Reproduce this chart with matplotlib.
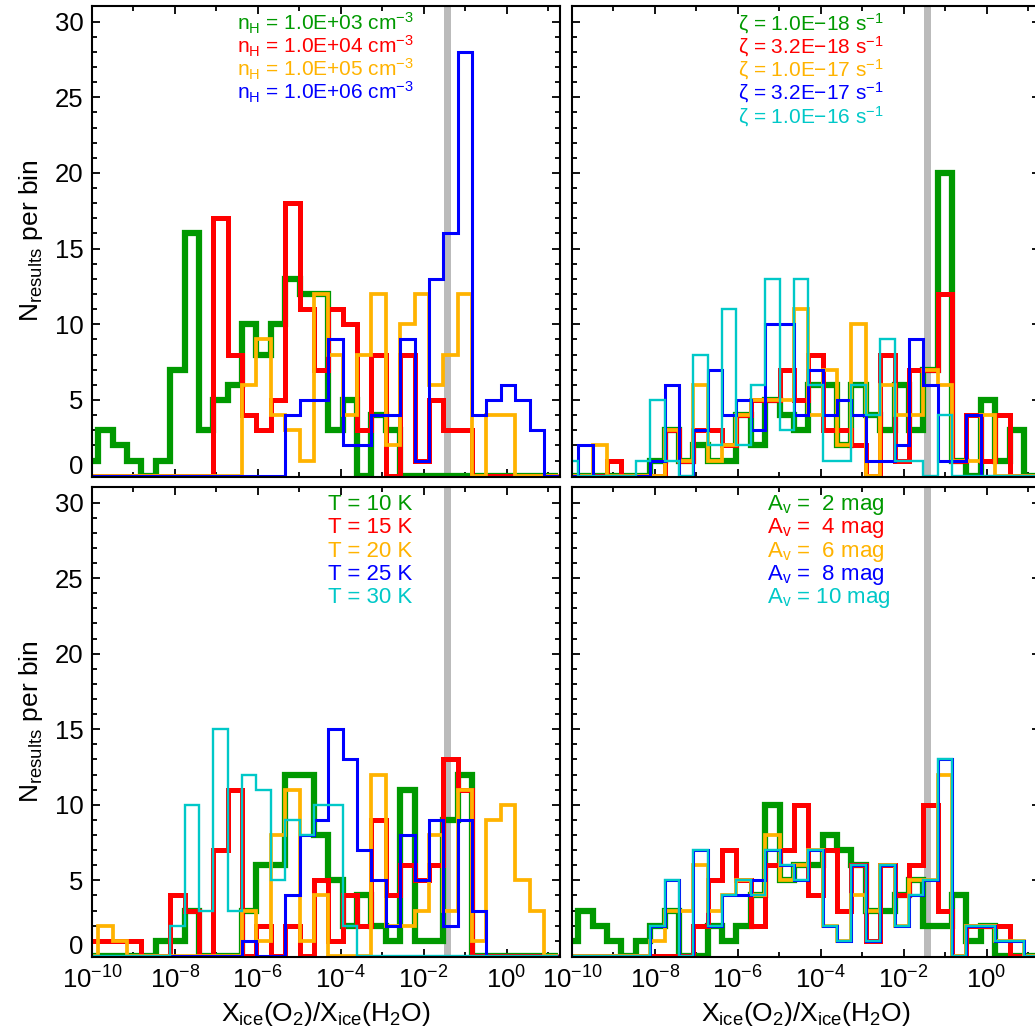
import numpy as np
import matplotlib
matplotlib.use('Agg')
import matplotlib.pyplot as plt
from matplotlib.ticker import FixedLocator, NullFormatter, FixedFormatter

plt.rcParams['font.family'] = ['Liberation Sans', 'DejaVu Sans']
plt.rcParams['mathtext.fontset'] = 'custom'
plt.rcParams['mathtext.rm'] = 'Liberation Sans'
plt.rcParams['mathtext.it'] = 'Liberation Sans:italic'
plt.rcParams['mathtext.bf'] = 'Liberation Sans:bold'
plt.rcParams['mathtext.sf'] = 'Liberation Sans'
plt.rcParams['mathtext.default'] = 'regular'

# ---------------- histogram binning (log10 of X_ice(O2)/X_ice(H2O)) -------------
LOG_BIN_START = -10.54
LOG_BIN_WIDTH = 0.3467
N_BINS = 34

# observed value band (log10 limits)
BAND_LOG = (-1.51, -1.335)

# ---------------- data: counts per bin -----------------------------------------
# panel 1: density
nh_labels = [r'n$_H$ = 1.0E+03 cm$^{-3}$', r'n$_H$ = 1.0E+04 cm$^{-3}$',
             r'n$_H$ = 1.0E+05 cm$^{-3}$', r'n$_H$ = 1.0E+06 cm$^{-3}$']
nh_1e3 = [1,1,3,2,1,0,1,7,16,3,5,6,10,8,10,13,12,12,3,5,0,4,3,0,0,0,0,0,0,0,0,0,0,0]
nh_1e4 = [0,0,0,0,0,0,0,0,0,0,17,8,4,3,5,18,11,7,11,10,3,8,0,8,1,5,3,3,0,0,0,0,0,0]
nh_1e5 = [0,0,0,0,0,0,0,0,0,0,0,0,6,9,4,3,1,12,8,4,8,12,2,10,12,6,8,12,0,4,4,0,0,0]
nh_1e6 = [0,0,0,0,0,0,0,0,0,0,0,0,0,0,0,4,5,5,9,2,2,4,4,9,1,13,16,28,4,5,6,5,3,0]

# panel 2: cosmic-ray ionisation rate
zeta_labels = ['\u03b6 = 1.0E\u221218 s$^{-1}$', '\u03b6 = 3.2E\u221218 s$^{-1}$',
               '\u03b6 = 1.0E\u221217 s$^{-1}$', '\u03b6 = 3.2E\u221217 s$^{-1}$',
               '\u03b6 = 1.0E\u221216 s$^{-1}$']
zeta_1e18 = [0,0,0,0,0,0,0,1,3,1,2,1,1,4,2,5,4,3,6,6,2,6,4,3,6,3,7,20,1,0,5,1,3,0]
zeta_3e18 = [0,0,0,0,1,0,0,0,3,1,3,3,2,4,5,5,7,5,8,3,3,2,0,8,1,7,7,12,1,4,1,4,0,0]
zeta_1e17 = [0,0,0,2,0,0,0,0,3,1,6,1,2,4,5,5,5,11,4,7,2,10,0,6,4,4,7,6,1,1,4,0,0,0]
zeta_3e17 = [0,0,2,0,0,0,0,1,6,0,3,7,4,5,3,10,10,4,7,4,5,4,1,1,2,9,6,1,1,4,0,0,0,0]
zeta_1e16 = [1,1,0,0,0,0,1,5,1,0,8,2,11,2,6,13,3,13,6,1,1,6,4,9,1,1,0,4,0,0,0,0,0,0]

# panel 3: temperature
T_labels = ['T = 10 K', 'T = 15 K', 'T = 20 K', 'T = 25 K', 'T = 30 K']
T_10 = [0,0,0,0,0,0,1,1,3,0,0,0,3,6,6,12,12,8,5,2,4,2,1,11,1,1,9,12,0,0,0,0,0,0]
T_15 = [1,1,1,1,1,0,0,4,3,0,7,11,0,2,0,2,0,5,1,4,2,9,4,6,5,6,13,11,0,0,0,0,0,0]
T_20 = [0,0,2,1,0,0,0,0,0,0,0,0,3,1,8,11,1,4,0,0,0,12,2,2,3,8,3,11,1,9,10,5,3,0]
T_25 = [0,0,0,0,0,0,0,0,0,0,0,0,1,0,0,4,8,9,15,13,7,5,2,8,5,9,2,9,3,0,0,0,0,0]
T_30 = [0,0,0,0,0,0,0,2,10,3,15,3,12,11,5,9,8,10,10,2,0,0,0,0,0,0,0,0,0,0,0,0,0,0]

# panel 4: visual extinction
Av_labels = [r'A$_v$ =  2 mag', r'A$_v$ =  4 mag', r'A$_v$ =  6 mag',
             r'A$_v$ =  8 mag', r'A$_v$ = 10 mag']
Av_2 = [1,1,3,2,1,0,1,2,3,0,0,2,1,2,4,10,5,6,6,8,7,6,3,3,4,5,2,2,4,1,2,0,0,0]
Av_4 = [0,0,0,0,0,0,0,0,0,0,2,5,7,5,2,6,7,10,4,7,3,6,1,6,4,6,10,3,0,2,2,2,0,0]
Av_6 = [0,0,0,0,0,0,0,1,3,3,6,3,4,5,4,8,5,6,7,2,1,4,3,6,2,5,5,12,0,2,2,1,1,0]
Av_8 = [0,0,0,0,0,0,0,2,5,0,7,2,4,4,5,7,6,5,7,2,1,6,1,6,2,4,5,13,0,2,2,1,1,0]
Av_10 = [0,0,0,0,0,0,0,2,5,0,7,2,4,5,4,7,6,5,7,2,1,6,1,6,2,4,5,13,0,2,2,1,1,0]

x_major = [1e-10, 1e-8, 1e-6, 1e-4, 1e-2, 1e0]
x_major_labels = [r'10$^{-10}$', r'10$^{-8}$', r'10$^{-6}$', r'10$^{-4}$',
                  r'10$^{-2}$', r'10$^{0}$']
x_minor = [1e-9, 1e-7, 1e-5, 1e-3, 1e-1, 1e1]
y_major = [0, 5, 10, 15, 20, 25, 30]
y_major_labels = ['', '5', '10', '15', '20', '25', '30']

# ---------------- styles --------------------------------------------------------
colors = ['#009900', '#FF0000', '#FFB300', '#0000FF', '#00C8C8']
widths = [4.5, 3.6, 2.7, 2.2, 1.7]
FS_LEG = 16
FS_TICK = 18.5
FS_LAB = 19

W, H = 1035, 1033
fig = plt.figure(figsize=(W / 100, H / 100), dpi=100)


def px_axes(l, t, r, b):
    return fig.add_axes([l / W, 1 - b / H, (r - l) / W, (b - t) / H])


edges = 10 ** (LOG_BIN_START + LOG_BIN_WIDTH * np.arange(N_BINS + 1))

panels = [
    (px_axes(92, 5.7, 560, 476.7), [nh_1e3, nh_1e4, nh_1e5, nh_1e6], nh_labels,
     0.309, False, True, 15),
    (px_axes(572, 5.7, 1040, 476.7), [zeta_1e18, zeta_3e18, zeta_1e17, zeta_3e17, zeta_1e16],
     zeta_labels, 0.355, False, False, 15),
    (px_axes(92, 486.7, 560, 957), [T_10, T_15, T_20, T_25, T_30], T_labels,
     0.504, True, True, FS_LEG),
    (px_axes(572, 486.7, 1040, 957), [Av_2, Av_4, Av_6, Av_8, Av_10], Av_labels,
     0.417, True, False, FS_LEG),
]

for ax, series, labels, xtext, is_bottom, is_left, fs_leg in panels:
    ax.set_xscale('log')
    ax.set_xlim(1e-10, 10 ** 1.29)
    ax.set_ylim(-0.07, 31.05)
    ax.axvspan(10 ** BAND_LOG[0], 10 ** BAND_LOG[1], color='#BBBBBB', lw=0, zorder=1)
    for i, vals in enumerate(series):
        ax.stairs(vals, edges, baseline=None, fill=False, color=colors[i],
                  lw=widths[i], zorder=2 + i, joinstyle='miter', capstyle='butt')
    ax.xaxis.set_major_locator(FixedLocator(x_major))
    ax.xaxis.set_minor_locator(FixedLocator(x_minor))
    ax.xaxis.set_minor_formatter(NullFormatter())
    if is_bottom:
        ax.xaxis.set_major_formatter(FixedFormatter(x_major_labels))
    else:
        ax.xaxis.set_major_formatter(NullFormatter())
    ax.yaxis.set_major_locator(FixedLocator(y_major))
    ax.yaxis.set_minor_locator(FixedLocator([v for v in range(31) if v % 5]))
    if is_left:
        ax.yaxis.set_major_formatter(FixedFormatter(y_major_labels))
        ax.annotate('0', xy=(0, 0), xycoords=('axes fraction', 'data'),
                    xytext=(-6, 6.5), textcoords='offset points',
                    ha='right', va='center', fontsize=FS_TICK)
    else:
        ax.yaxis.set_major_formatter(NullFormatter())
    ax.tick_params(which='both', direction='in', top=True, right=True,
                   width=1.3, labelsize=FS_TICK, pad=6, color='black')
    ax.tick_params(which='major', length=6)
    ax.tick_params(which='minor', length=3.3)
    ax.tick_params(axis='x', which='major', pad=7)
    for sp in ax.spines.values():
        sp.set_linewidth(1.5)
        sp.set_zorder(10)
    # legend text
    top_px = 5.7 if not is_bottom else 486.7
    base0 = 30.0 if not is_bottom else 510.0
    h_ax = 471.0 if not is_bottom else 470.3
    for i, lab in enumerate(labels):
        bl = base0 + 23.3 * i
        ax.text(xtext, 1 - (bl - top_px) / h_ax, lab, color=colors[i],
                transform=ax.transAxes, ha='left', va='baseline', fontsize=fs_leg,
                zorder=20)

ylab = r'N$_{results}$ per bin'
fig.text(31 / W, 1 - 241 / H, ylab, rotation=90, ha='center', va='center', fontsize=FS_LAB)
fig.text(31 / W, 1 - 722 / H, ylab, rotation=90, ha='center', va='center', fontsize=FS_LAB)
xlab = r'X$_{ice}$(O$_2$)/X$_{ice}$(H$_2$O)'
fig.text(326 / W, 1 - 1014 / H, xlab, ha='center', va='center', fontsize=FS_LAB)
fig.text(806 / W, 1 - 1014 / H, xlab, ha='center', va='center', fontsize=FS_LAB)

fig.savefig('out.png', dpi=100)
